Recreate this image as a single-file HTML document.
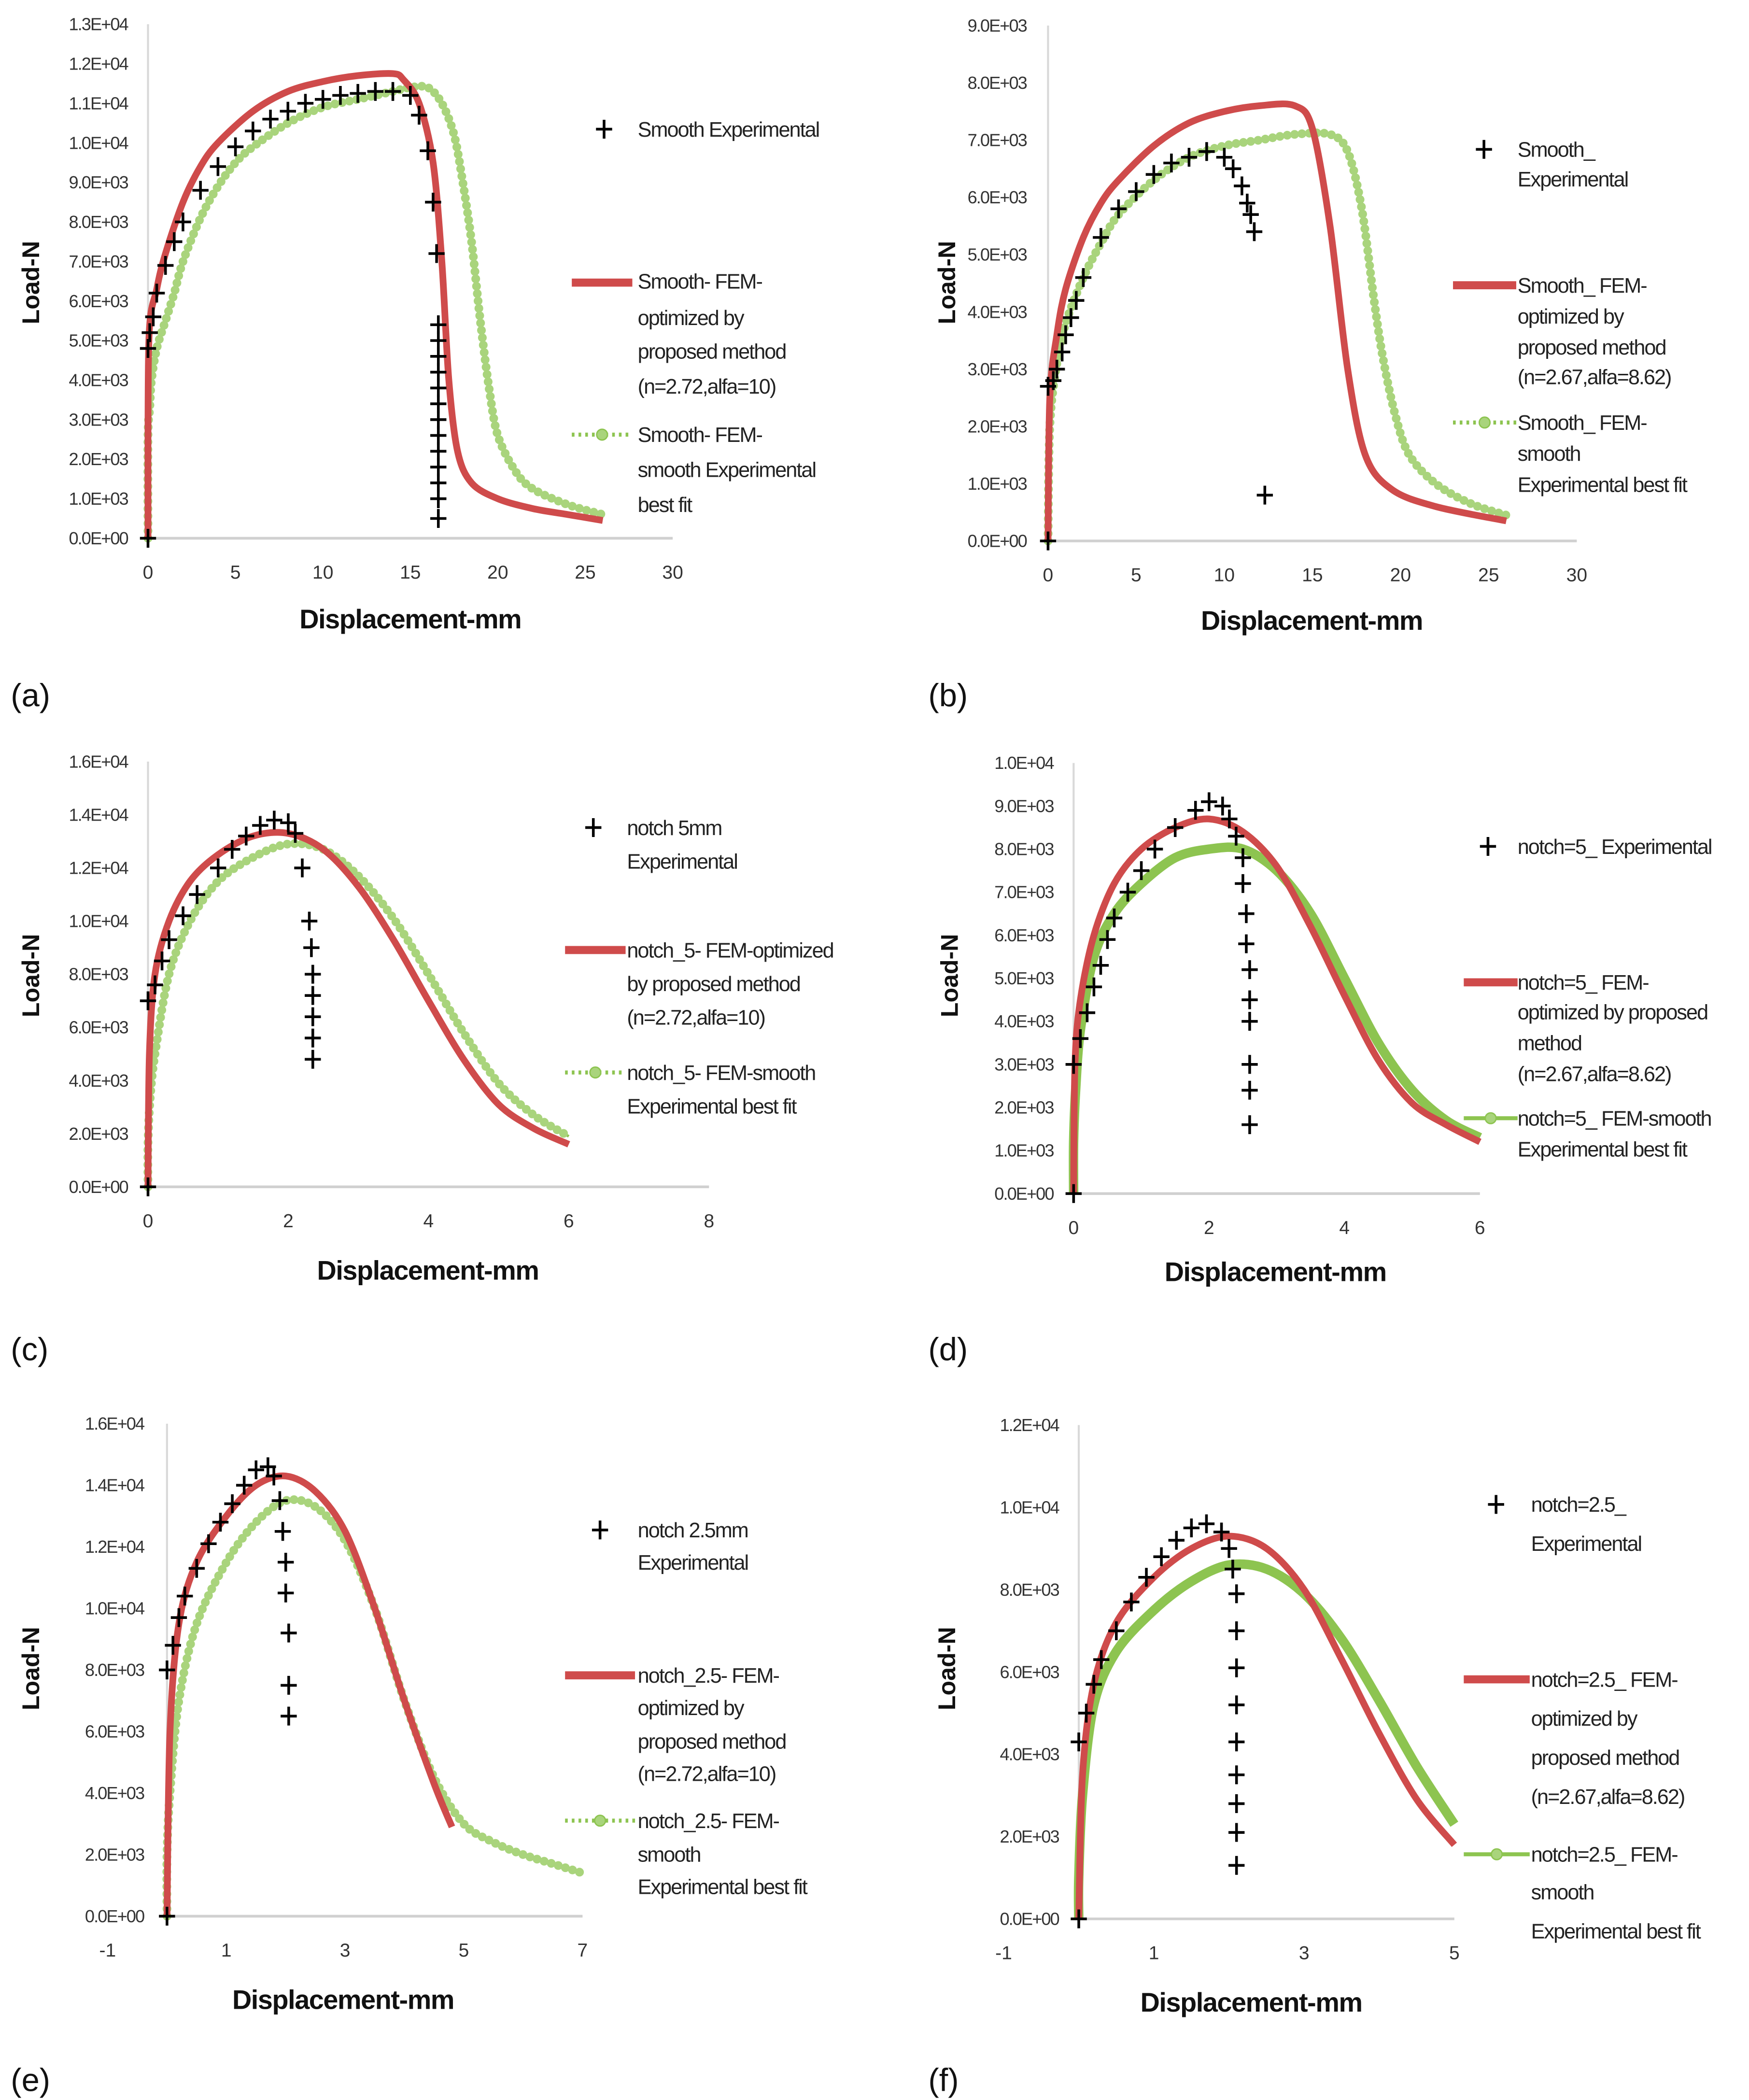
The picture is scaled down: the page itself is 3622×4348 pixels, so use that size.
<!DOCTYPE html>
<html><head><meta charset="utf-8"><style>
html,body{margin:0;padding:0;background:#fff;}
svg{display:block;}
text{font-family:"Liberation Sans",sans-serif;}
</style></head><body>
<svg id="fig" width="3622" height="4348" viewBox="0 0 1300 1560.6" xmlns="http://www.w3.org/2000/svg"></svg>
<script>
// ---- data (x mm, load N) ----
const expA=[[0,0],[0,4800],[0.1,5200],[0.3,5600],[0.5,6200],[1,6900],[1.5,7500],[2,8000],[3,8800],[4,9400],[5,9900],[6,10300],[7,10600],[8,10800],[9,11000],[10,11100],[11,11200],[12,11250],[13,11300],[14,11300],[15,11200],[15.5,10700],[16,9800],[16.3,8500],[16.5,7200],[16.6,5400],[16.6,5000],[16.6,4600],[16.6,4200],[16.6,3800],[16.6,3400],[16.6,3000],[16.6,2600],[16.6,2200],[16.6,1800],[16.6,1400],[16.6,1000],[16.6,500]];
const redA=[[0,0],[0.05,5000],[0.5,6300],[1,7200],[2,8500],[3,9400],[4,10000],[6,10800],[8,11300],[10,11550],[12,11700],[14,11750],[14.6,11600],[15.5,11000],[16.3,9500],[16.8,7000],[17.2,4000],[17.7,2200],[18.5,1400],[20,1000],[22,750],[24,600],[26,450]];
const grnA=[[0,0],[0,2600],[0.1,3300],[0.2,4000],[0.5,4800],[1,5500],[1.5,6200],[2,7000],[3,8100],[4,8900],[5,9500],[6,9900],[8,10500],[10,10900],[12,11100],[14,11300],[15,11400],[16,11400],[16.8,11000],[17.5,10200],[18,9000],[18.5,7500],[19,5500],[19.5,3800],[20,2600],[21,1700],[22,1250],[24,850],[26,600]];
const expB=[[0,0],[0,2700],[0.3,2800],[0.5,3000],[0.8,3300],[1,3600],[1.3,3900],[1.6,4200],[2,4600],[3,5300],[4,5800],[5,6100],[6,6400],[7,6600],[8,6700],[9,6800],[10,6700],[10.5,6500],[11,6200],[11.3,5900],[11.5,5700],[11.7,5400],[12.3,800]];
const redB=[[0,0],[0.1,2500],[0.5,3600],[1,4400],[2,5300],[3,5900],[4,6300],[6,6900],[8,7300],[10,7500],[12,7600],[14,7600],[15,7200],[16,5500],[17,3000],[18,1500],[19.5,900],[22,600],[26,350]];
const grnB=[[0,0],[0.1,2000],[0.5,3100],[1,3800],[2,4600],[3,5200],[4,5700],[6,6300],[8,6700],[10,6900],[12,7000],[14,7100],[16,7100],[17,6800],[17.8,5800],[18.5,4200],[19,3200],[19.7,2200],[20.5,1500],[22,1000],[24,650],[26,450]];
const expC=[[0,0],[0,7000],[0.1,7600],[0.2,8500],[0.3,9300],[0.5,10200],[0.7,11000],[1,12000],[1.2,12700],[1.4,13200],[1.6,13600],[1.8,13800],[2,13700],[2.1,13300],[2.2,12000],[2.3,10000],[2.33,9000],[2.35,8000],[2.35,7200],[2.35,6400],[2.35,5600],[2.35,4800]];
const redC=[[0,0],[0.02,5000],[0.1,8000],[0.3,10000],[0.6,11500],[1,12500],[1.5,13200],[2,13300],[2.5,12700],[3,11300],[3.5,9300],[4,7000],[4.5,4800],[5,3100],[5.5,2200],[6,1600]];
const grnC=[[0,0],[0,1600],[0.03,3300],[0.1,5000],[0.3,8000],[0.6,10000],[1,11500],[1.5,12400],[2,12900],[2.5,12700],[3,11700],[3.5,10100],[4,8000],[4.5,5800],[5,3900],[5.5,2700],[6,1900]];
const expD=[[0,0],[0,3000],[0.1,3600],[0.2,4200],[0.3,4800],[0.4,5300],[0.5,5900],[0.6,6400],[0.8,7000],[1,7500],[1.2,8000],[1.5,8500],[1.8,8900],[2,9100],[2.2,9000],[2.3,8700],[2.4,8300],[2.5,7800],[2.5,7200],[2.55,6500],[2.55,5800],[2.6,5200],[2.6,4500],[2.6,4000],[2.6,3000],[2.6,2400],[2.6,1600]];
const redD=[[0,0],[0.02,3000],[0.1,4500],[0.3,6000],[0.6,7200],[1,8000],[1.5,8500],[2,8700],[2.5,8400],[3,7600],[3.5,6200],[4,4600],[4.5,3100],[5,2100],[5.5,1600],[6,1200]];
const grnD=[[0,0],[0,1200],[0.03,2400],[0.1,3800],[0.3,5500],[0.6,6500],[1,7200],[1.5,7800],[2,8000],[2.5,8000],[3,7500],[3.5,6500],[4,5000],[4.5,3500],[5,2400],[5.5,1700],[6,1300]];
const expE=[[0,0],[0,8000],[0.1,8800],[0.2,9700],[0.3,10400],[0.5,11300],[0.7,12100],[0.9,12800],[1.1,13400],[1.3,14000],[1.5,14500],[1.7,14600],[1.8,14300],[1.9,13500],[1.95,12500],[2,11500],[2,10500],[2.05,9200],[2.05,7500],[2.05,6500]];
const redE=[[0,0],[0.05,6000],[0.2,9500],[0.5,11500],[1,13000],[1.5,14000],[2,14300],[2.5,13800],[3,12500],[3.5,10000],[4,7000],[4.5,4300],[4.8,2900]];
const grnE=[[0,0],[0,2000],[0.05,4000],[0.2,7000],[0.5,9500],[1,11500],[1.5,12800],[2,13500],[2.5,13300],[3,12200],[3.5,10000],[4,7000],[4.5,4500],[5,3000],[5.5,2400],[6,2000],[6.5,1700],[7,1400]];
const expF=[[0,0],[0,4300],[0.1,5000],[0.2,5700],[0.3,6300],[0.5,7000],[0.7,7700],[0.9,8300],[1.1,8800],[1.3,9200],[1.5,9500],[1.7,9600],[1.9,9400],[2,9000],[2.05,8500],[2.1,7900],[2.1,7000],[2.1,6100],[2.1,5200],[2.1,4300],[2.1,3500],[2.1,2800],[2.1,2100],[2.1,1300]];
const redF=[[0,0],[0.05,3500],[0.2,5700],[0.5,7200],[1,8300],[1.5,9000],[2,9300],[2.5,9000],[3,8000],[3.5,6300],[4,4500],[4.5,2900],[5,1800]];
const grnF=[[0,0],[0,1000],[0.05,3000],[0.2,5200],[0.5,6500],[1,7500],[1.5,8200],[2,8600],[2.5,8500],[3,7900],[3.5,6800],[4,5300],[4.5,3700],[5,2300]];
const xTicksA=[0,5,10,15,20,25,30];
const xTicksC=[0,2,4,6,8];
const xTicksD=[0,2,4,6];
const xTicksE=[-1,1,3,5,7];
const xTicksF=[-1,1,3,5];
const yTicksA=[0,1000,2000,3000,4000,5000,6000,7000,8000,9000,10000,11000,12000,13000];
const yTicksB=[0,1000,2000,3000,4000,5000,6000,7000,8000,9000];
const yTicksC=[0,2000,4000,6000,8000,10000,12000,14000,16000];
const yTicksD=[0,1000,2000,3000,4000,5000,6000,7000,8000,9000,10000];
const yTicksF=[0,2000,4000,6000,8000,10000,12000];

const NS="http://www.w3.org/2000/svg";
const svg=document.getElementById('fig');
function mk(tag,attrs,parent){const e=document.createElementNS(NS,tag);for(const k in attrs)e.setAttribute(k,attrs[k]);(parent||svg).appendChild(e);return e;}
function fmt(v){if(v===0)return "0.0E+00";const e=Math.floor(Math.log10(v));const m=v/Math.pow(10,e);return m.toFixed(1)+"E+"+(e<10?"0":"")+e;}
function smooth(P){ // Catmull-Rom to bezier
  let d='M'+P[0][0]+','+P[0][1];
  for(let i=0;i<P.length-1;i++){
    const p0=P[Math.max(i-1,0)],p1=P[i],p2=P[i+1],p3=P[Math.min(i+2,P.length-1)];
    const t=0.16;
    const c1=[p1[0]+(p2[0]-p0[0])*t,p1[1]+(p2[1]-p0[1])*t];
    const c2=[p2[0]-(p3[0]-p1[0])*t,p2[1]-(p3[1]-p1[1])*t];
    d+=`C${c1[0]},${c1[1]} ${c2[0]},${c2[1]} ${p2[0]},${p2[1]}`;
  }
  return d;
}
const RED="#cf4b4b",GRN="#8dc450",GRNF="#a9d47c";

function panel(p){
  const g=mk('g',{});
  
  
  const sx=v=>p.x0+(v-p.xmin)/(p.xmax-p.xmin)*(p.x1-p.x0);
  const sy=v=>p.y0-(v/p.ymax)*(p.y0-p.y1);
  const ox=sx(0);
  let a=mk('line',{x1:ox,y1:p.y1,x2:ox,y2:p.y0,stroke:'#d9d9d9','stroke-width':1.5},g);
  
  a=mk('line',{x1:ox,y1:p.y0,x2:p.x1,y2:p.y0,stroke:'#d0d0d0','stroke-width':2},g);
  
  p.yt.forEach(v=>{const t=mk('text',{x:p.ylx,y:sy(v)+4.5,'text-anchor':'end','font-size':13,fill:'#333','letter-spacing':'-0.7'},g);t.textContent=fmt(v);
    });
  p.xt.forEach(v=>{const t=mk('text',{x:sx(v),y:p.y0+30,'text-anchor':'middle','font-size':14,fill:'#333'},g);t.textContent=v;
    });
  let t=mk('text',{x:p.xtx,y:p.xty,'text-anchor':'middle','font-size':20,'font-weight':'bold',fill:'#111','letter-spacing':'-0.5'},g);t.textContent='Displacement-mm';
  
  t=mk('text',{x:0,y:0,'text-anchor':'middle','font-size':18,'font-weight':'bold',fill:'#111',transform:`translate(${p.ytx},${p.yty}) rotate(-90)`},g);t.textContent='Load-N';
  
  t=mk('text',{x:p.lbx,y:p.lby,'font-size':24,fill:'#111','font-family':'"Liberation Serif",serif'},g);t.textContent='('+p.id+')';
  
  // green series
  const gp=p.g.map(d=>[sx(d[0]),sy(d[1])]);
  let s;
  if(p.gsolid){
    s=mk('path',{d:smooth(gp),fill:'none',stroke:GRN,'stroke-width':7,'stroke-linejoin':'round'},g);
  }else{
    s=mk('path',{d:smooth(gp),fill:'none',stroke:GRN,'stroke-width':2,'stroke-dasharray':'2,2.5'},g);
    
    s=mk('path',{d:smooth(gp),fill:'none',stroke:GRNF,'stroke-width':6.5,'stroke-linecap':'round','stroke-dasharray':'0,5.5'},g);
  }
  
  // red series
  s=mk('path',{d:smooth(p.r.map(d=>[sx(d[0]),sy(d[1])])),fill:'none',stroke:RED,'stroke-width':5,'stroke-linejoin':'round'},g);
  
  // experimental
  p.e.forEach(d=>{const x=sx(d[0]),y=sy(d[1]);
    const m=mk('path',{d:`M${x-6},${y}H${x+6}M${x},${y-7}V${y+7}`,stroke:'#000','stroke-width':2},g);
    });
  // legend
  const L=p.leg;
  let m=mk('path',{d:`M${L.px-6},${L.py}H${L.px+6}M${L.px},${L.py-7}V${L.py+7}`,stroke:'#000','stroke-width':2},g);
  
  m=mk('line',{x1:L.lx0,y1:L.ry,x2:L.lx1,y2:L.ry,stroke:RED,'stroke-width':6},g);
  
  m=mk('line',{x1:L.lx0,y1:L.gy,x2:L.lx1,y2:L.gy,stroke:GRN,'stroke-width':3,'stroke-dasharray':p.gsolid?'none':'2,3'},g);
  
  m=mk('circle',{cx:(L.lx0+L.lx1)/2,cy:L.gy,r:4,fill:GRNF,stroke:GRN},g);
  
  L.lines.forEach(l=>{const tt=mk('text',{x:L.tx,y:l[0]+5.5,'font-size':15.5,fill:'#222','letter-spacing':'-0.7'},g);tt.textContent=l[1];
    });
}

panel({id:'a',x0:110,x1:500,xmin:0,xmax:30,y0:400,y1:18,ymax:13000,yt:yTicksA,xt:xTicksA,ylx:95,xtx:305,xty:467,ytx:29,yty:210,lbx:8,lby:525,e:expA,r:redA,g:grnA,
 leg:{px:449,py:96,lx0:425,lx1:470,ry:210,gy:323,tx:474,lines:[[96,'Smooth Experimental'],[209,'Smooth- FEM-'],[236,'optimized by'],[261,'proposed method'],[287,'(n=2.72,alfa=10)'],[323,'Smooth- FEM-'],[349,'smooth Experimental'],[375,'best fit']]}});
panel({id:'b',x0:779,x1:1172,xmin:0,xmax:30,y0:402,y1:19,ymax:9000,yt:yTicksB,xt:xTicksA,ylx:763,xtx:975,xty:468,ytx:710,yty:210,lbx:690,lby:525,e:expB,r:redB,g:grnB,
 leg:{px:1103,py:111,lx0:1080,lx1:1127,ry:212,gy:314,tx:1128,lines:[[111,'Smooth_'],[133,'Experimental'],[212,'Smooth_ FEM-'],[235,'optimized by'],[258,'proposed method'],[280,'(n=2.67,alfa=8.62)'],[314,'Smooth_ FEM-'],[337,'smooth'],[360,'Experimental best fit']]}});
panel({id:'c',x0:110,x1:527,xmin:0,xmax:8,y0:882,y1:566,ymax:16000,yt:yTicksC,xt:xTicksC,ylx:95,xtx:318,xty:951,ytx:29,yty:725,lbx:8,lby:1011,e:expC,r:redC,g:grnC,
 leg:{px:441,py:615,lx0:420,lx1:465,ry:706,gy:797,tx:466,lines:[[615,'notch 5mm'],[640,'Experimental'],[706,'notch_5- FEM-optimized'],[731,'by proposed method'],[756,'(n=2.72,alfa=10)'],[797,'notch_5- FEM-smooth'],[822,'Experimental best fit']]}});
panel({id:'d',x0:798,x1:1100,xmin:0,xmax:6,y0:887,y1:567,ymax:10000,yt:yTicksD,xt:xTicksD,ylx:783,xtx:948,xty:952,ytx:712,yty:725,lbx:690,lby:1011,e:expD,r:redD,g:grnD,gsolid:true,
 leg:{px:1106,py:629,lx0:1088,lx1:1128,ry:730,gy:831,tx:1128,lines:[[629,'notch=5_ Experimental'],[730,'notch=5_ FEM-'],[752,'optimized by proposed'],[775,'method'],[798,'(n=2.67,alfa=8.62)'],[831,'notch=5_ FEM-smooth'],[854,'Experimental best fit']]}});
panel({id:'e',x0:80,x1:433,xmin:-1,xmax:7,y0:1424,y1:1058,ymax:16000,yt:yTicksC,xt:xTicksE,ylx:107,xtx:255,xty:1493,ytx:29,yty:1240,lbx:8,lby:1554,e:expE,r:redE,g:grnE,
 leg:{px:446,py:1137,lx0:420,lx1:472,ry:1245,gy:1353,tx:474,lines:[[1137,'notch 2.5mm'],[1161,'Experimental'],[1245,'notch_2.5- FEM-'],[1269,'optimized by'],[1294,'proposed method'],[1318,'(n=2.72,alfa=10)'],[1353,'notch_2.5- FEM-'],[1378,'smooth'],[1402,'Experimental best fit']]}});
panel({id:'f',x0:746,x1:1081,xmin:-1,xmax:5,y0:1426,y1:1059,ymax:12000,yt:yTicksF,xt:xTicksF,ylx:787,xtx:930,xty:1495,ytx:710,yty:1240,lbx:690,lby:1554,e:expF,r:redF,g:grnF,gsolid:true,
 leg:{px:1112,py:1118,lx0:1088,lx1:1137,ry:1248,gy:1378,tx:1138,lines:[[1118,'notch=2.5_'],[1147,'Experimental'],[1248,'notch=2.5_ FEM-'],[1277,'optimized by'],[1306,'proposed method'],[1335,'(n=2.67,alfa=8.62)'],[1378,'notch=2.5_ FEM-'],[1406,'smooth'],[1435,'Experimental best fit']]}});
</script>
</body></html>
